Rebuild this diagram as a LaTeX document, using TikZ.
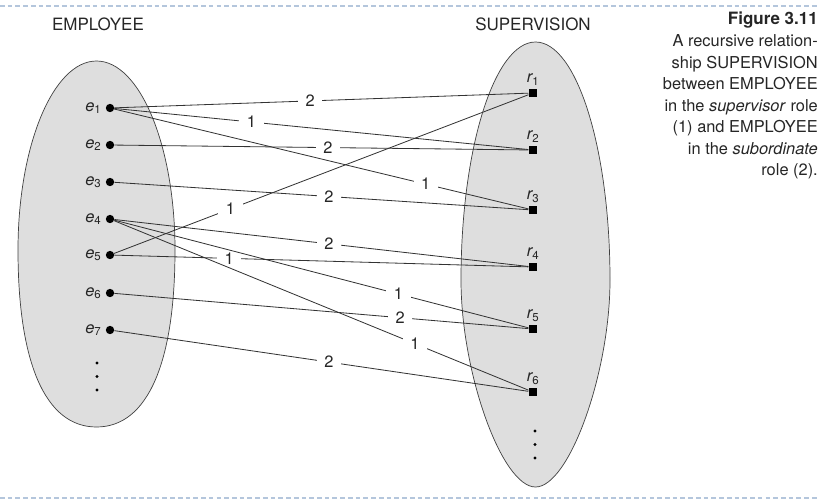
\documentclass[tikz,border=0pt]{standalone}
\usepackage{fontspec}
\setmainfont{TeX Gyre Heros}
\usepackage{tikz}

\definecolor{setgray}{HTML}{DEDEDE}
\definecolor{rulecol}{HTML}{B4C6DC}
\newcommand{\elab}[1]{{\itshape e}\textsubscript{#1}}
\newcommand{\rlab}[1]{{\itshape r}\textsubscript{#1}}

\begin{document}
\begin{tikzpicture}[x=0.03cm,y=0.03cm,
    txt/.style={font=\fontsize{14}{18.4}\selectfont,text=black!85},
    ent/.style={circle,fill=black,inner sep=0pt,minimum size=0.25cm,
        label={[txt,label distance=0pt]left:\elab{#1}}},
    rel/.style={rectangle,fill=black,inner sep=0pt,minimum size=0.26cm,
        label={[txt,label distance=-1pt]above:\rlab{#1}}},
    conn/.style={draw=black!80,line width=0.7pt},
    num/.style={txt,fill=white,inner xsep=6.5pt,inner ysep=0.5pt},
    setshape/.style={fill=setgray,draw=black!75,line width=0.6pt},
    rule/.style={draw=rulecol,line width=1pt,dash pattern=on 4pt off 2.6pt}]
    \useasboundingbox (0,0) rectangle (839,-500);

    % draw the two sets
    \path[setshape] (18,-250) .. controls (18,-145.7) and (53.2,-61) .. (96.5,-61)
        .. controls (139.8,-61) and (175,-145.7) .. (175,-250)
        .. controls (175,-362) and (148,-427) .. (96.5,-427)
        .. controls (45,-427) and (18,-362) .. (18,-250) -- cycle;
    \path[setshape] (461,-280) .. controls (461,-148.6) and (494.4,-42) .. (535.5,-42)
        .. controls (576.6,-42) and (610,-148.6) .. (610,-280)
        .. controls (610,-373) and (569,-487) .. (535.5,-487)
        .. controls (502,-487) and (461,-373) .. (461,-280) -- cycle;

    % draw headings
    \node[txt,font=\fontsize{14.5}{18}\selectfont] (emp) at (98,-24) {EMPLOYEE};
    \node[txt,font=\fontsize{14.5}{18}\selectfont] (sup) at (533,-24) {SUPERVISION};

    % draw nodes
    \node[ent=1] (e1) at (110,-108) {};
    \node[ent=2] (e2) at (110,-145) {};
    \node[ent=3] (e3) at (110,-182) {};
    \node[ent=4] (e4) at (110,-219) {};
    \node[ent=5] (e5) at (110,-255) {};
    \node[ent=6] (e6) at (110,-293) {};
    \node[ent=7] (e7) at (110,-330) {};

    \node[rel=1] (r1) at (533,-93) {};
    \node[rel=2] (r2) at (533,-150) {};
    \node[rel=3] (r3) at (533,-210) {};
    \node[rel=4] (r4) at (533,-267) {};
    \node[rel=5] (r5) at (533,-329) {};
    \node[rel=6] (r6) at (533,-392) {};

    % more elements
    \fill[black] (97,-363) circle (1.7) (97,-376.5) circle (1.7) (97,-390) circle (1.7);
    \fill[black] (535,-431) circle (1.7) (535,-444.5) circle (1.7) (535,-458) circle (1.7);

    % draw the role lines
    \draw[conn] (e1) -- node[num,pos=0.473] {2} (r1);
    \draw[conn] (e5) -- node[num,pos=0.281] {1} (r1);
    \draw[conn] (e1) -- node[num,pos=0.331] {1} (r2);
    \draw[conn] (e2) -- node[num,pos=0.516] {2} (r2);
    \draw[conn] (e1) -- node[num,pos=0.752] {1} (r3);
    \draw[conn] (e3) -- node[num,pos=0.518] {2} (r3);
    \draw[conn] (e4) -- node[num,pos=0.518] {2} (r4);
    \draw[conn] (e5) -- node[num,pos=0.277] {1} (r4);
    \draw[conn] (e4) -- node[num,pos=0.686] {1} (r5);
    \draw[conn] (e6) -- node[num,pos=0.690] {2} (r5);
    \draw[conn] (e4) -- node[num,pos=0.726] {1} (r6);
    \draw[conn] (e7) -- node[num,pos=0.518] {2} (r6);

    % caption
    \node[txt,align=right,anchor=north east,inner sep=0pt] (cap) at (818,-12)
        {{\bfseries\fontsize{14.5}{18.4}\selectfont Figure 3.11}\\
         A recursive relation-\\
         ship SUPERVISION\\
         between EMPLOYEE\\
         in the \textit{supervisor} role\\
         (1) and EMPLOYEE\\
         in the \textit{subordinate}\\
         role (2).};

    % dashed borders
    \draw[rule] (0,-6) -- (818,-6);
    \draw[rule] (0,-498) -- (818,-498);
\end{tikzpicture}
\end{document}
